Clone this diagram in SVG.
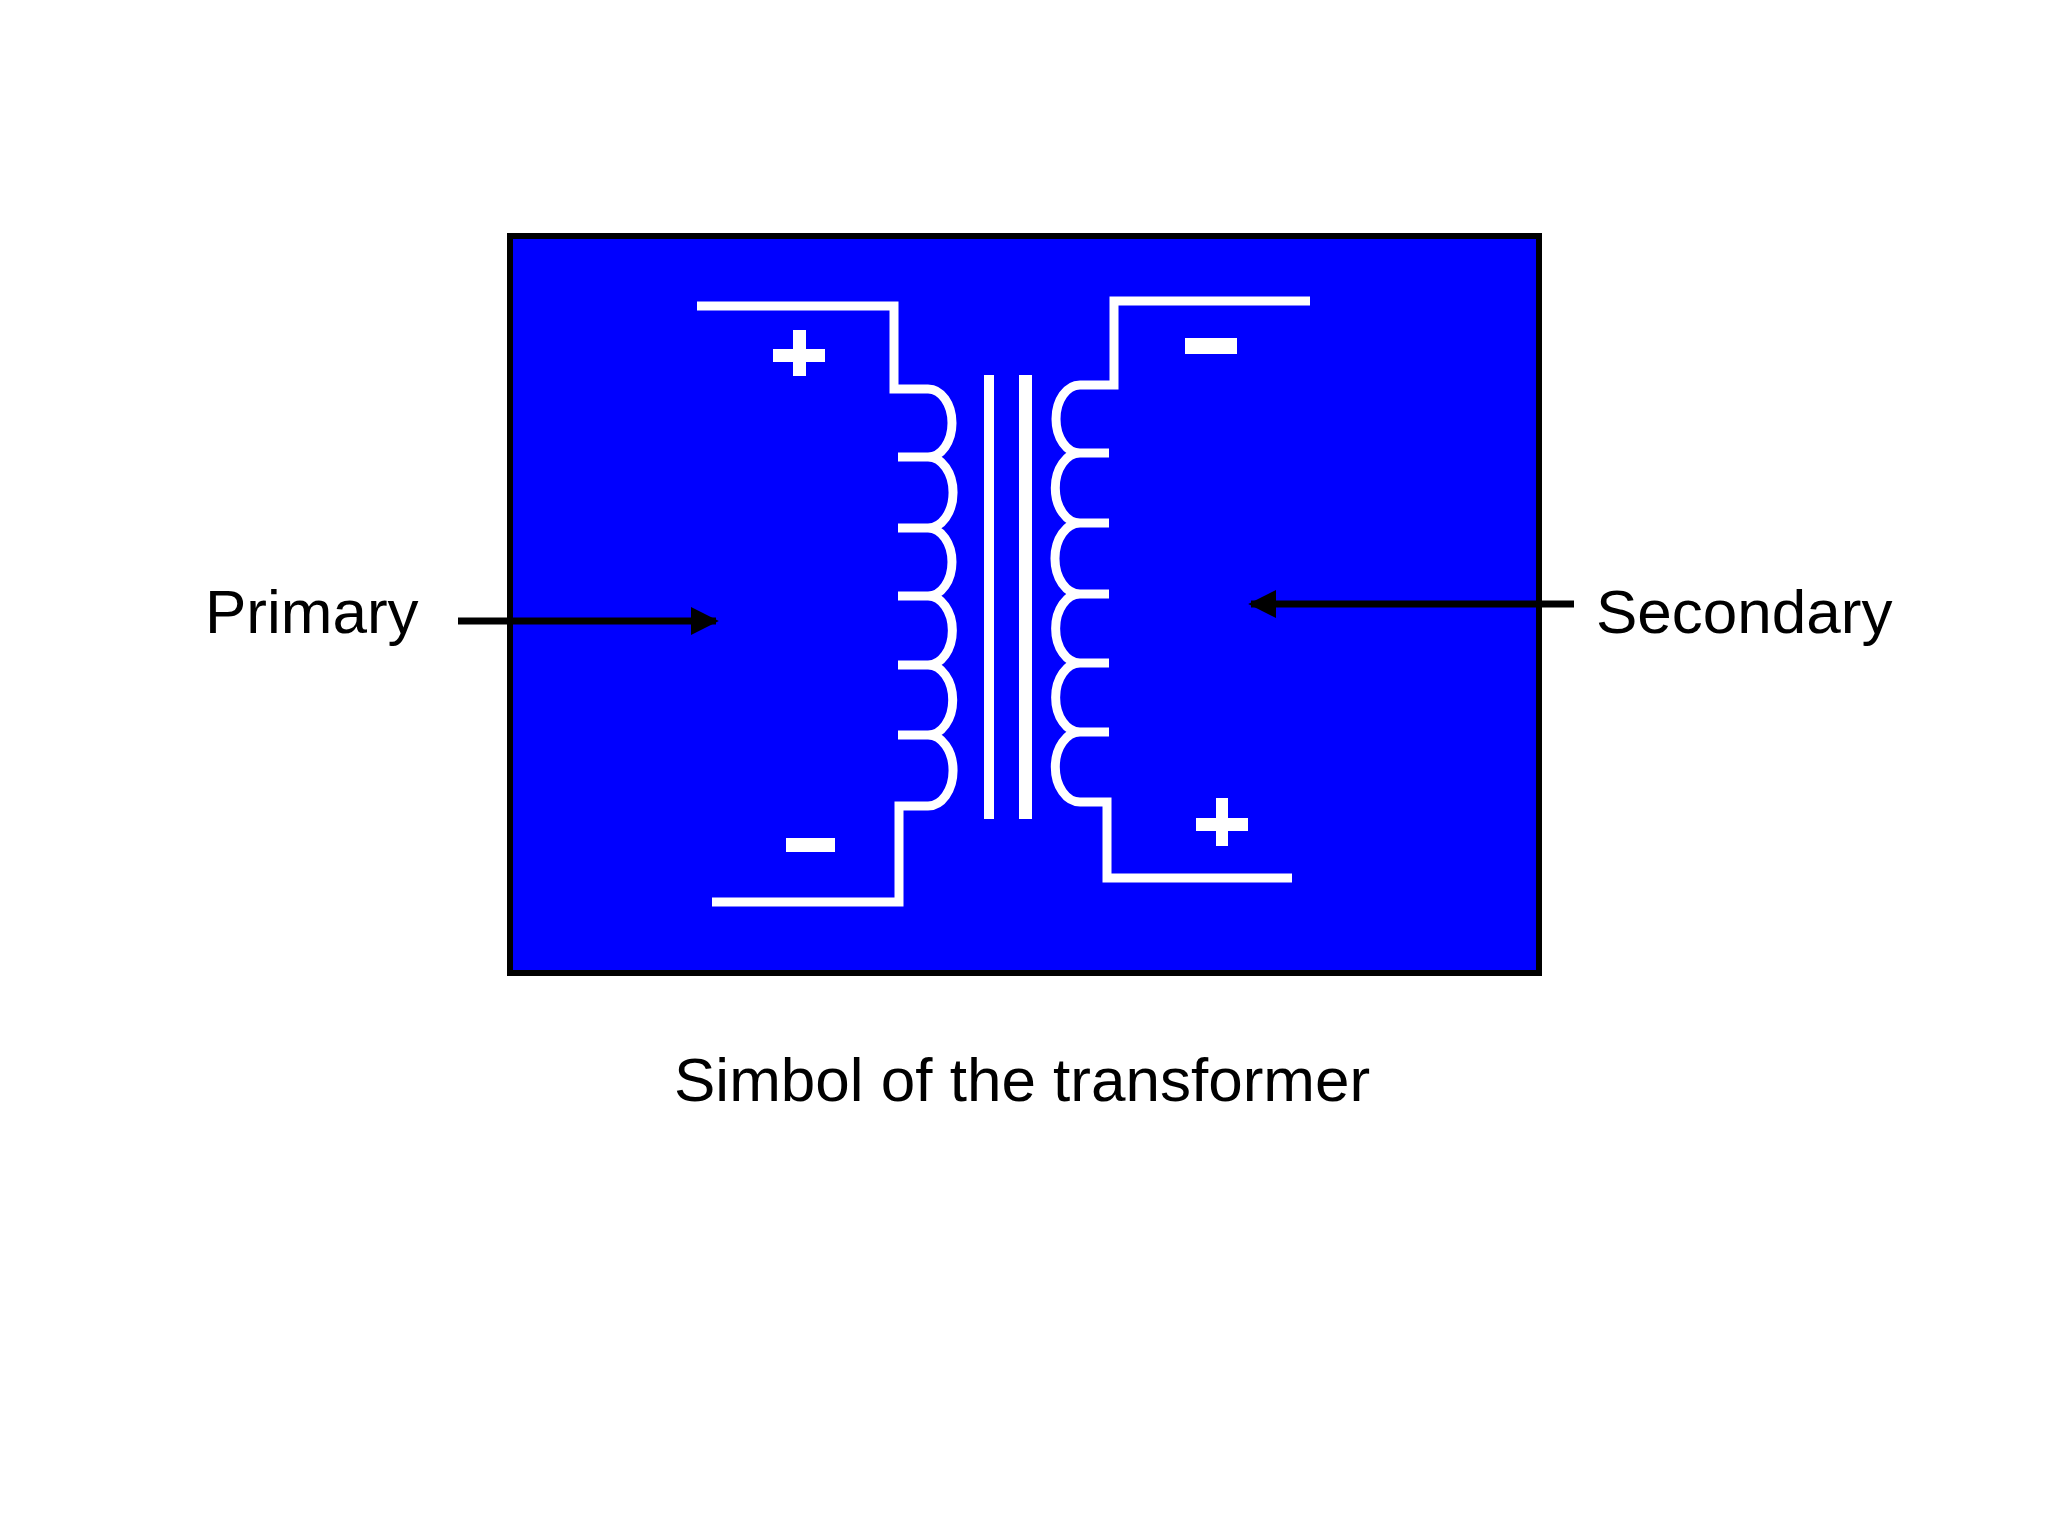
<svg xmlns="http://www.w3.org/2000/svg" width="2048" height="1534" viewBox="0 0 2048 1534">
<style>
.w{fill:none;stroke:#fff;stroke-width:9}
.wf{fill:#fff}
.t{font-family:"Liberation Sans",Arial,sans-serif;font-size:62px;fill:#000}
.a{stroke:#000;stroke-width:7;fill:none}
</style>
<defs><marker id="ah" viewBox="0 0 10 10" refX="9" refY="5" markerWidth="4" markerHeight="4" orient="auto"><path d="M0,0L10,5L0,10z" fill="#000"/></marker></defs>
<rect width="2048" height="1534" fill="#fff"/>
<g id="transformer">
<rect x="510" y="236" width="1029" height="737" fill="#0000ff" stroke="#000" stroke-width="6"/>
<path class="w" d="M697,306H894V389H928 A24,34 0 0 1 928,457 A24,34 0 0 1 928,528 A24,34 0 0 1 928,596 A24,34 0 0 1 928,665 A24,34 0 0 1 928,735 A24,34 0 0 1 928,806H899V902H712"/>
<path class="w" d="M898,457H928M898,528H928M898,596H928M898,665H928M898,735H928"/>
<path class="w" d="M1310,301H1114V385H1080 A24,34 0 0 0 1080,453 A24,34 0 0 0 1080,523 A24,34 0 0 0 1080,594 A24,34 0 0 0 1080,663 A24,34 0 0 0 1080,732 A24,34 0 0 0 1080,802H1107V878H1292"/>
<path class="w" d="M1080,453H1109M1080,523H1109M1080,594H1109M1080,663H1109M1080,732H1109"/>
<rect class="wf" x="984" y="375" width="10" height="444"/>
<rect class="wf" x="1019" y="375" width="13" height="444"/>
<rect class="wf" x="773" y="349" width="52" height="13"/><rect class="wf" x="793" y="330" width="13" height="46"/>
<rect class="wf" x="1185" y="338" width="52" height="16"/>
<rect class="wf" x="786" y="838" width="49" height="14"/>
<rect class="wf" x="1196" y="818" width="52" height="13"/><rect class="wf" x="1216" y="798" width="12" height="48"/>
</g>
<g id="connectors">
<line class="a" x1="458" y1="621" x2="716" y2="621" marker-end="url(#ah)"/>
<line class="a" x1="1574" y1="604" x2="1251" y2="604" marker-end="url(#ah)"/>
</g>
<g id="labels">
<text class="t" x="205" y="633">Primary</text>
<text class="t" x="1596" y="633">Secondary</text>
<text class="t" x="674" y="1101">Simbol of the transformer</text>
</g>
</svg>
